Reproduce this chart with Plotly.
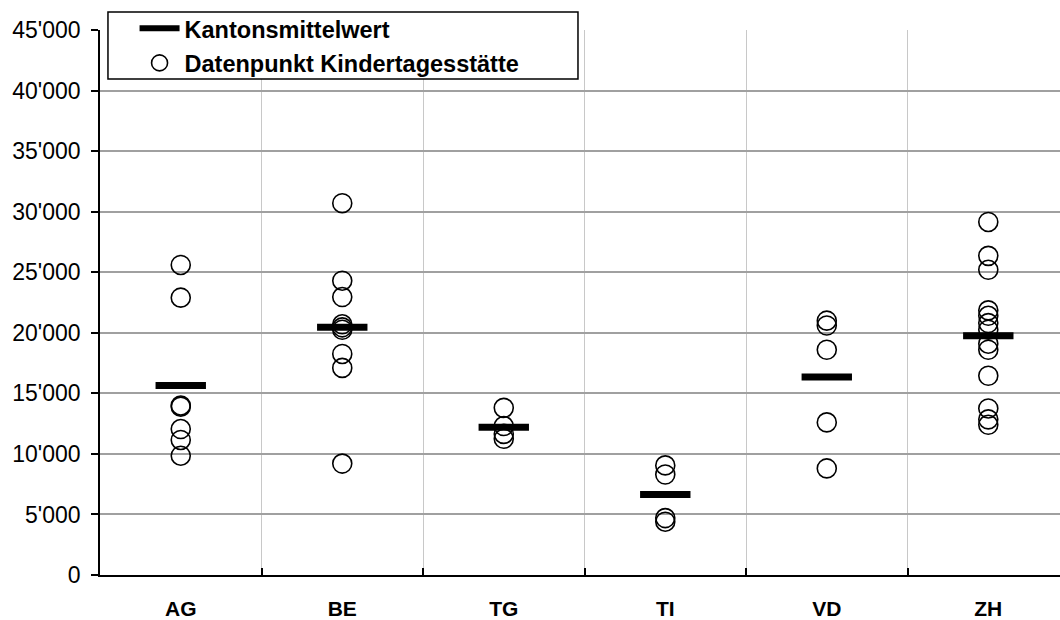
import plotly.graph_objects as go

categories = ["AG", "BE", "TG", "TI", "VD", "ZH"]
values = {
    "AG": [25600, 22900, 14000, 13900, 12050, 11150, 9850],
    "BE": [30700, 24300, 22950, 20700, 20450, 20250, 18250, 17100, 9200],
    "TG": [13800, 12300, 11650, 11250],
    "TI": [9050, 8300, 4700, 4400],
    "VD": [21000, 20600, 18600, 12600, 8800],
    "ZH": [29150, 26350, 25200, 21850, 21400, 20800, 20250, 19100, 18600,
           16450, 13750, 12850, 12400],
}
means = [15650, 20450, 12200, 6650, 16350, 19750]
y_ticks = [0, 5000, 10000, 15000, 20000, 25000, 30000, 35000, 40000, 45000]

FONT = "Liberation Sans, Arial, sans-serif"

pt_x, pt_y = [], []
for i, c in enumerate(categories):
    for v in values[c]:
        pt_x.append(i)
        pt_y.append(v)

fig = go.Figure()

# mean bars (no legend, legend drawn with a line sample)
fig.add_trace(go.Scatter(
    x=list(range(len(categories))), y=means, mode="markers",
    marker=dict(symbol="line-ew", size=36, line=dict(width=7, color="black")),
    showlegend=False, hoverinfo="y",
))
fig.add_trace(go.Scatter(
    x=[None], y=[None], mode="lines", name="Kantonsmittelwert",
    line=dict(color="black", width=6), legendgroup="a",
))
fig.add_trace(go.Scatter(
    x=pt_x, y=pt_y, mode="markers", name="Datenpunkt Kindertagesstätte",
    marker=dict(symbol="circle-open", size=19, color="black",
                line=dict(width=1.6, color="black")),
    legendgroup="b",
))

fig.update_layout(
    width=1060, height=620,
    margin=dict(l=100, r=0, t=30, b=45, autoexpand=False),
    plot_bgcolor="white", paper_bgcolor="white",
    separators=".'",
    font=dict(family=FONT, size=21, color="black"),
    showlegend=True,
    legend=dict(
        x=0.036, y=1.043, xanchor="left", yanchor="top",
        bgcolor="rgba(0,0,0,0)", borderwidth=0,
        font=dict(family=FONT, size=23.5, color="black", weight="bold"),
        traceorder="grouped", tracegroupgap=1, itemwidth=40,
    ),
    shapes=[dict(type="rect", xref="paper", yref="paper",
                 x0=0.0083, x1=0.4979, y0=0.910, y1=1.033,
                 line=dict(color="black", width=1.5), fillcolor="white",
                 layer="above")],
)

fig.update_xaxes(
    range=[-0.5, 5.444], tickmode="array",
    tickvals=list(range(len(categories))), ticktext=categories,
    ticks="", showgrid=False, zeroline=False, automargin=False,
    showline=True, linecolor="black", linewidth=1.5,
    tickfont=dict(family=FONT, size=21, color="black", weight="bold"),
    ticklabelstandoff=14,
    minor=dict(tickmode="array", tickvals=[0.5, 1.5, 2.5, 3.5, 4.5],
               showgrid=True, gridcolor="#c8c8c8", gridwidth=1,
               ticks="inside", ticklen=7, tickcolor="black", tickwidth=1.5),
)
fig.update_yaxes(
    range=[0, 45000], tickmode="array", tickvals=y_ticks,
    tickformat=",d", ticks="outside", ticklen=7, tickcolor="black",
    tickwidth=1.5, showgrid=True, gridcolor="#a0a0a0", gridwidth=1.5,
    zeroline=False, showline=True, linecolor="black", linewidth=1.5,
    automargin=False, ticklabelstandoff=6,
    tickfont=dict(family=FONT, size=23, color="black"),
)

fig.write_html(
    "out.html",
    config={"displayModeBar": False},
    post_script="document.body.style.margin='0px';document.body.style.padding='0px';",
)
